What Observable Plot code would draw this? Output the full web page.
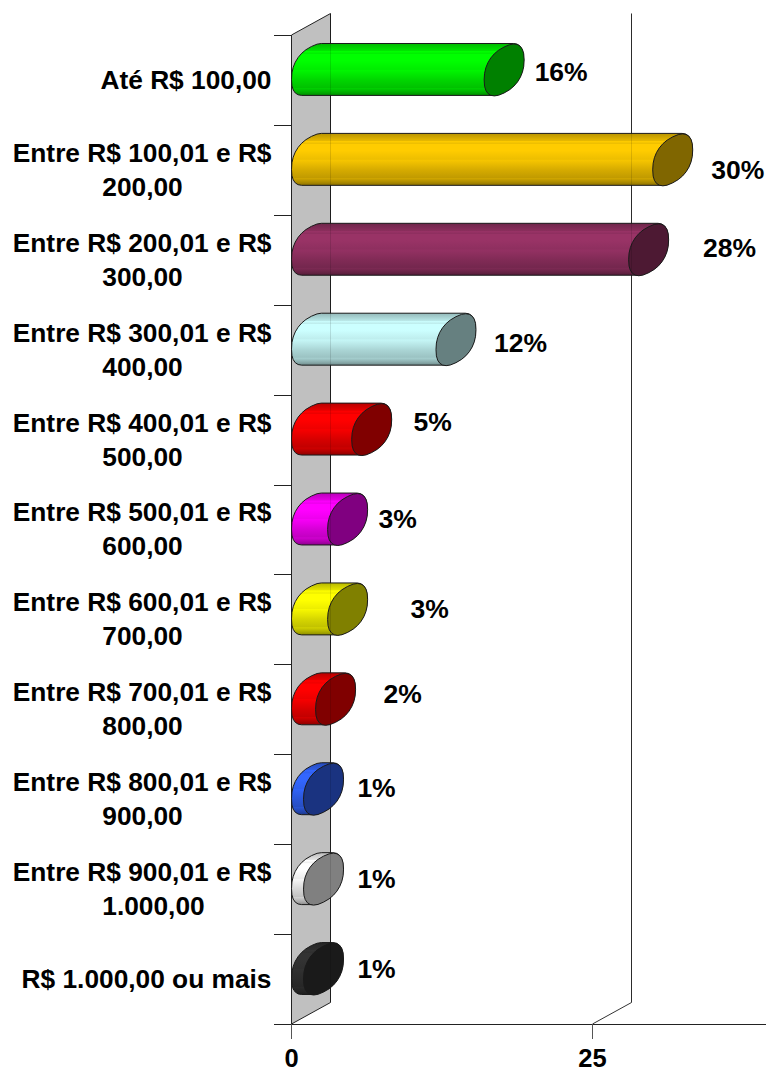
<!DOCTYPE html>
<html><head><meta charset="utf-8">
<script src="https://cdn.jsdelivr.net/npm/d3@7"></script>
<script src="https://cdn.jsdelivr.net/npm/@observablehq/plot@0.6"></script>
<style>html,body{margin:0;padding:0;background:#fff}svg{display:block}</style>
</head><body><div id="chart"></div>
<script>
const categories = ["Até R$ 100,00","Entre R$ 100,01 e R$\n200,00","Entre R$ 200,01 e R$\n300,00","Entre R$ 300,01 e R$\n400,00","Entre R$ 400,01 e R$\n500,00","Entre R$ 500,01 e R$\n600,00","Entre R$ 600,01 e R$\n700,00","Entre R$ 700,01 e R$\n800,00","Entre R$ 800,01 e R$\n900,00","Entre R$ 900,01 e R$\n1.000,00","R$ 1.000,00 ou mais"];
const values = [16,30,28,12,5,3,3,2,1,1,1];
const valueLabels = ["16%","30%","28%","12%","5%","3%","3%","2%","1%","1%","1%"];
const bodyColors = ["#00ff00","#ffcc00","#993366","#ccffff","#ff0000","#ff00ff","#ffff00","#ff0000","#3366ff","#ffffff","#333333"];
const capColors = ["#008000","#806600","#4d1933","#668080","#800000","#800080","#808000","#800000","#1a3380","#808080","#1a1a1a"];
const xTicks = [0,25];

const rows = categories.map((c,i)=>({c,i,v:values[i],t:valueLabels[i],line1:c.split("\n")[0],line2:c.split("\n")[1]||null,body:bodyColors[i],cap:capColors[i]}));

// 3-D projection of the chart box and bars, in pixels
const DX=39, DY=21.5, capW=40, capDy=20, capH=46, capExp=0.85, capN=28;
const labelNudge=[[77,-8],[85,0],[101,-12],[84.5,-7],[81,-18],[70,-10],[102,-10],[87,-15],[73,-11],[73,-10],[73,-10]];

const spow=v=>Math.sign(v)*Math.pow(Math.abs(v),capExp);
function capPoint(t){const s=spow(Math.sin(t)),c=spow(Math.cos(t));return [capW/2*s, -capH/2*c-capDy/2*s];}
const capPts=d3.range(capN).map(k=>capPoint(k/capN*2*Math.PI));
const capSymbol={draw(ctx){capPts.forEach((p,k)=>k?ctx.lineTo(p[0],p[1]):ctx.moveTo(p[0],p[1]));ctx.closePath();}};
const topIdx=d3.leastIndex(capPts,(a,b)=>a[1]-b[1]), botIdx=d3.leastIndex(capPts,(a,b)=>b[1]-a[1]);
function arcFrom(a,b){const out=[];for(let k=a;;k=(k+1)%capN){out.push(capPts[k]);if(k===b)break;}return out;}
const rightHalf=arcFrom(topIdx,botIdx), leftHalf=arcFrom(botIdx,topIdx);

const svgEl=n=>document.createElementNS("http://www.w3.org/2000/svg",n);
function shade(col,f){const c=d3.rgb(col);return d3.rgb(c.r*f,c.g*f,c.b*f).formatHex();}

function defsMark(){
  const g=svgEl("g");const defs=svgEl("defs");g.appendChild(defs);
  const stops=[[0,.72],[.06,.8],[.14,.9],[.15,1],[.2,.93],[.21,1],[.32,1],[.33,1],[.5,.93],[.51,.97],[.7,.84],[.85,.76],[.86,.82],[.94,.68],[1,.55]];
  bodyColors.forEach((col,i)=>{
    const lg=svgEl("linearGradient");lg.setAttribute("id","barg"+i);
    lg.setAttribute("x1","0");lg.setAttribute("x2","0");lg.setAttribute("y1","0");lg.setAttribute("y2","1");
    stops.forEach(([o,f])=>{const s=svgEl("stop");s.setAttribute("offset",o);s.setAttribute("stop-color",shade(col,f));lg.appendChild(s);});
    defs.appendChild(lg);
  });
  return g;
}
function line(pts,stroke,w,op){const p=svgEl("path");p.setAttribute("d",d3.line()(pts));p.setAttribute("fill","none");p.setAttribute("stroke",stroke);p.setAttribute("stroke-width",w||1);if(op)p.setAttribute("opacity",op);return p;}

function wallMark(i,{x,y},v,dim){
  const g=svgEl("g");const x0=Math.round(x(0))+.5,top=dim.marginTop,bot=dim.height-dim.marginBottom;
  const p=svgEl("path");
  p.setAttribute("d",d3.line()([[x0,top],[x0+DX,top-DY],[x0+DX,bot-DY],[x0,bot]])+"Z");
  p.setAttribute("fill","#c0c0c0");p.setAttribute("stroke","#222");g.appendChild(p);
  xTicks.filter(t=>t>0).forEach(t=>{const a=Math.round(x(t))+.5;g.appendChild(line([[a,bot],[a+DX,bot-DY],[a+DX,top-DY]],"#333"));});
  categories.forEach(c=>g.appendChild(line([[dim.marginLeft,Math.round(y(c))+.5],[x0,Math.round(y(c))+.5]],"#222")));
  g.appendChild(line([[dim.marginLeft,Math.round(bot)+.5],[x0,Math.round(bot)+.5]],"#222"));
  return g;
}
function bodyRender(I,{y},vals,dim,ctx){
  const g=svgEl("g");const bw=y.bandwidth();
  for(const i of I){
    const x0=vals.x1[i],x1=vals.x2[i],yc=vals.y[i]+bw/2-capDy/2-0.5,cx0=x0+capW/2+.5,cx1=x1+capW/2;
    const pts=[...leftHalf.map(q=>[cx0+q[0],yc+q[1]]),...rightHalf.map(q=>[cx1+q[0],yc+q[1]])];
    const p=svgEl("path");p.setAttribute("d",d3.line()(pts)+"Z");
    p.setAttribute("fill",`url(#barg${rows[i].i})`);p.setAttribute("stroke","#1a1a1a");p.setAttribute("stroke-width",1);
    g.appendChild(p);
  }
  return g;
}
function gridOverlay(i,{x},v,dim){
  const g=svgEl("g");const top=dim.marginTop,bot=dim.height-dim.marginBottom;
  [0,...xTicks.filter(t=>t>0)].forEach(t=>{const a=Math.round(x(t))+.5+DX;g.appendChild(line([[a,bot-DY],[a,top-DY]],"#000",1,.12));});
  return g;
}
const font={fontFamily:"'Liberation Sans',Arial,sans-serif",fontWeight:"bold",fontSize:26.3,fill:"#000"};

const chart=Plot.plot({
  width:766,height:1071,marginLeft:274,marginRight:0,marginTop:35,marginBottom:47,
  style:{background:"#fff",overflow:"visible"},
  x:{domain:[0,39.5],range:[291,766.6],axis:null},
  y:{type:"band",domain:categories,range:[35,1024],padding:0,round:false,axis:null},
  color:{type:"identity"},
  marks:[
    defsMark,
    wallMark,
    Plot.frame({anchor:"bottom",stroke:"#222"}),
    Plot.axisX({ticks:xTicks,anchor:"bottom",tickSize:15,tickPadding:9,stroke:"#555",...font,fontSize:25.5,label:null}),
    Plot.barX(rows,{x1:()=>0,x2:"v",y:"c",render:bodyRender}),
    Plot.dot(rows,{x:"v",y:"c",symbol:capSymbol,r:20,dx:capW/2,dy:-capDy/2-.5,fill:"cap",stroke:"#1a1a1a",strokeWidth:1}),
    gridOverlay,
    Plot.text(rows.filter(d=>!d.line2),{x:()=>0,y:"c",text:"line1",textAnchor:"end",dx:-20,dy:0.5,...font}),
    Plot.text(rows.filter(d=>d.line2),{x:()=>0,y:"c",text:"line1",textAnchor:"end",dx:-20,dy:-17,...font}),
    Plot.text(rows.filter(d=>d.line2&&d.line2.length<7),{x:()=>0,y:"c",text:"line2",textAnchor:"middle",dx:-149,dy:17,...font}),
    Plot.text(rows.filter(d=>d.line2&&d.line2.length>=7),{x:()=>0,y:"c",text:"line2",textAnchor:"middle",dx:-138,dy:17,...font}),
    ...rows.map((d,i)=>Plot.text([d],{x:"v",y:"c",text:"t",dx:labelNudge[i][0],dy:labelNudge[i][1],...font,fontSize:26.5}))
  ]
});
document.getElementById("chart").appendChild(chart);
</script></body></html>
